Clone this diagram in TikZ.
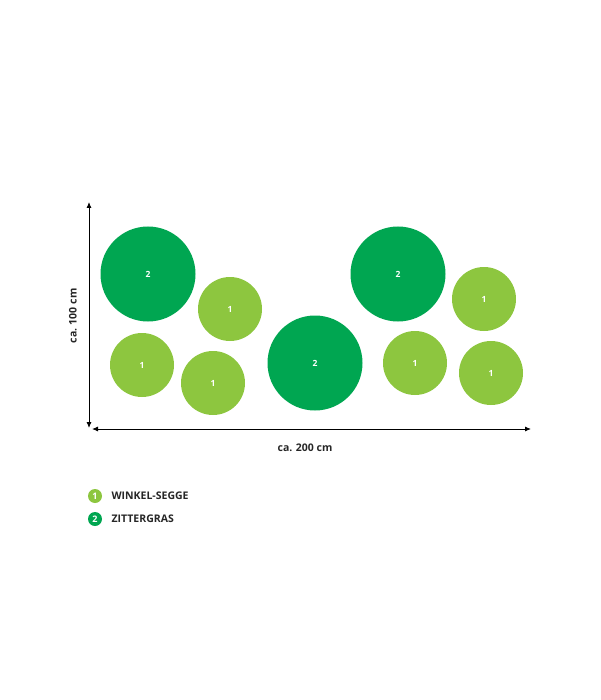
\documentclass[tikz,border=0pt]{standalone}
\usepackage{fontspec}
\setmainfont{Open Sans}
\usetikzlibrary{arrows.meta}
\definecolor{hellgruen}{RGB}{141,198,63}
\definecolor{dunkelgruen}{RGB}{0,166,81}
\tikzset{
	gras1/.style={circle,fill=hellgruen,minimum size=64pt,inner sep=0pt,text=white,font=\fontsize{8.5}{9}\selectfont\bfseries},
	gras2/.style={circle,fill=dunkelgruen,minimum size=95pt,inner sep=0pt,text=white,font=\fontsize{8.5}{9}\selectfont\bfseries},
	legende/.style={circle,inner sep=0pt,minimum size=14pt,text=white,font=\fontsize{9}{9}\selectfont\bfseries},
	beschriftung/.style={font=\fontsize{10.5}{11}\selectfont\bfseries,text=black!85}
}
\begin{document}
\begin{tikzpicture}[x=1pt,y=-1pt]
	\useasboundingbox (0,0) rectangle (600,700);
	
	%zittergras
	\node[gras2](z1) at (148,274) {2};
	\node[gras2](z2) at (315,363) {2};
	\node[gras2](z3) at (398,274) {2};
	%winkel-segge
	\node[gras1](w1) at (230,309) {1};
	\node[gras1](w2) at (142,365) {1};
	\node[gras1](w3) at (213,383) {1};
	\node[gras1](w4) at (484,299) {1};
	\node[gras1](w5) at (415,363) {1};
	\node[gras1](w6) at (491,373) {1};
	%arrows
	\coordinate (oben) at (89,202);
	\coordinate (unten) at (89,428);
	\coordinate (links) at (92,429);
	\coordinate (rechts) at (531,429);
	\draw[line width=0.9pt,{Latex[length=6pt,width=5pt]}-{Latex[length=6pt,width=5pt]}] (oben) -- (unten);
	\draw[line width=0.9pt,{Latex[length=6pt,width=5pt]}-{Latex[length=6pt,width=5pt]}] (links) -- (rechts);
	%labels
	\node[beschriftung,rotate=90](hoehe) at (73,316) {ca. 100 cm};
	\node[beschriftung](breite) at (305,448) {ca. 200 cm};
	%legend
	\node[legende,fill=hellgruen](l1) at (95,496) {1};
	\node[legende,fill=dunkelgruen](l2) at (95,519) {2};
	\node[beschriftung,anchor=west](t1) at (108,496) {WINKEL-SEGGE};
	\node[beschriftung,anchor=west](t2) at (108,519) {ZITTERGRAS};
\end{tikzpicture}
\end{document}
